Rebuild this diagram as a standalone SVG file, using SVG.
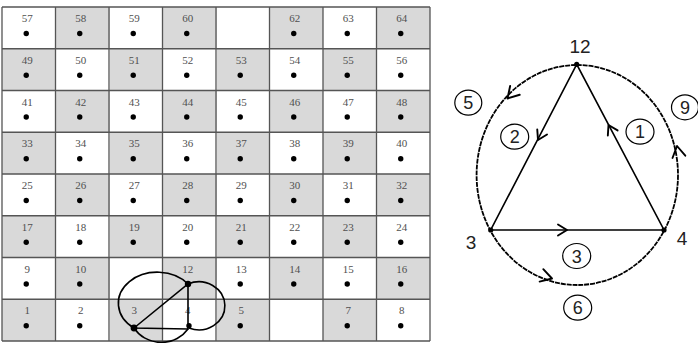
<svg xmlns="http://www.w3.org/2000/svg" xmlns:xlink="http://www.w3.org/1999/xlink" width="698" height="343" viewBox="0 0 698 343">
<style>
.gl{stroke:#555;stroke-width:1.3;fill:none}
.n{font-family:"Liberation Serif",serif;font-size:11px;fill:#505050;text-anchor:middle}
.d{fill:#000}
.sk{stroke:#000;stroke-width:1.6;fill:none}
.ln{stroke:#000;stroke-width:1.6;fill:none}
.arc{stroke:#000;stroke-width:1.8;fill:none;stroke-dasharray:5 0.9}
.chev{stroke:#000;stroke-width:1.9;fill:none;stroke-linecap:round;stroke-linejoin:round}
.lb{font-family:"Liberation Sans",Arial,sans-serif;font-size:19px;fill:#222;text-anchor:middle}
.cl{font-family:"Liberation Sans",Arial,sans-serif;font-size:18px;fill:#222;text-anchor:middle}
.ce{stroke:#000;stroke-width:1.2;fill:none}
</style>
<defs>
<pattern id="checker" patternUnits="userSpaceOnUse" x="2" y="7" width="107" height="83.5">
<rect x="0" y="0" width="107" height="83.5" fill="#fff"/>
<rect x="53.5" y="0" width="53.5" height="41.75" fill="#d9d9d9"/>
<rect x="0" y="41.75" width="53.5" height="41.75" fill="#d9d9d9"/>
</pattern>
<path id="chv" d="M-9,-5.5 L0,0 L-9,5.5"/>
<path id="chv2" d="M-11,-6.5 L0,0 L-11,6.5"/>
</defs>
<rect width="698" height="343" fill="#fff"/>
<g id="grid">
<rect x="2" y="7" width="428" height="334" fill="url(#checker)"/>
<path class="gl" d="M2,7V341M55.5,7V341M109,7V341M162.5,7V341M216,7V341M269.5,7V341M323,7V341M376.5,7V341M430,7V341M2,7H430M2,48.75H430M2,90.5H430M2,132.25H430M2,174H430M2,215.75H430M2,257.5H430M2,299.25H430M2,341H430"/>
</g>
<g id="cell-numbers">
<text class="n" x="27.25" y="22">57</text><text class="n" x="80.75" y="22">58</text><text class="n" x="134.25" y="22">59</text><text class="n" x="187.75" y="22">60</text><text class="n" x="294.75" y="22">62</text><text class="n" x="348.25" y="22">63</text><text class="n" x="401.75" y="22">64</text>
<text class="n" x="27.25" y="63.75">49</text><text class="n" x="80.75" y="63.75">50</text><text class="n" x="134.25" y="63.75">51</text><text class="n" x="187.75" y="63.75">52</text><text class="n" x="241.25" y="63.75">53</text><text class="n" x="294.75" y="63.75">54</text><text class="n" x="348.25" y="63.75">55</text><text class="n" x="401.75" y="63.75">56</text>
<text class="n" x="27.25" y="105.5">41</text><text class="n" x="80.75" y="105.5">42</text><text class="n" x="134.25" y="105.5">43</text><text class="n" x="187.75" y="105.5">44</text><text class="n" x="241.25" y="105.5">45</text><text class="n" x="294.75" y="105.5">46</text><text class="n" x="348.25" y="105.5">47</text><text class="n" x="401.75" y="105.5">48</text>
<text class="n" x="27.25" y="147.25">33</text><text class="n" x="80.75" y="147.25">34</text><text class="n" x="134.25" y="147.25">35</text><text class="n" x="187.75" y="147.25">36</text><text class="n" x="241.25" y="147.25">37</text><text class="n" x="294.75" y="147.25">38</text><text class="n" x="348.25" y="147.25">39</text><text class="n" x="401.75" y="147.25">40</text>
<text class="n" x="27.25" y="189">25</text><text class="n" x="80.75" y="189">26</text><text class="n" x="134.25" y="189">27</text><text class="n" x="187.75" y="189">28</text><text class="n" x="241.25" y="189">29</text><text class="n" x="294.75" y="189">30</text><text class="n" x="348.25" y="189">31</text><text class="n" x="401.75" y="189">32</text>
<text class="n" x="27.25" y="230.75">17</text><text class="n" x="80.75" y="230.75">18</text><text class="n" x="134.25" y="230.75">19</text><text class="n" x="187.75" y="230.75">20</text><text class="n" x="241.25" y="230.75">21</text><text class="n" x="294.75" y="230.75">22</text><text class="n" x="348.25" y="230.75">23</text><text class="n" x="401.75" y="230.75">24</text>
<text class="n" x="27.25" y="272.5">9</text><text class="n" x="80.75" y="272.5">10</text><text class="n" x="187.75" y="272.5">12</text><text class="n" x="241.25" y="272.5">13</text><text class="n" x="294.75" y="272.5">14</text><text class="n" x="348.25" y="272.5">15</text><text class="n" x="401.75" y="272.5">16</text>
<text class="n" x="27.25" y="314.25">1</text><text class="n" x="80.75" y="314.25">2</text><text class="n" x="134.25" y="314.25">3</text><text class="n" x="187.75" y="314.25">4</text><text class="n" x="241.25" y="314.25">5</text><text class="n" x="348.25" y="314.25">7</text><text class="n" x="401.75" y="314.25">8</text>
</g>
<g id="cell-dots" class="d">
<circle cx="26.25" cy="33.5" r="2.7"/><circle cx="79.75" cy="33.5" r="2.7"/><circle cx="133.25" cy="33.5" r="2.7"/><circle cx="186.75" cy="33.5" r="2.7"/><circle cx="293.75" cy="33.5" r="2.7"/><circle cx="347.25" cy="33.5" r="2.7"/><circle cx="400.75" cy="33.5" r="2.7"/>
<circle cx="26.25" cy="75.25" r="2.7"/><circle cx="79.75" cy="75.25" r="2.7"/><circle cx="133.25" cy="75.25" r="2.7"/><circle cx="186.75" cy="75.25" r="2.7"/><circle cx="240.25" cy="75.25" r="2.7"/><circle cx="293.75" cy="75.25" r="2.7"/><circle cx="347.25" cy="75.25" r="2.7"/><circle cx="400.75" cy="75.25" r="2.7"/>
<circle cx="26.25" cy="117" r="2.7"/><circle cx="79.75" cy="117" r="2.7"/><circle cx="133.25" cy="117" r="2.7"/><circle cx="186.75" cy="117" r="2.7"/><circle cx="240.25" cy="117" r="2.7"/><circle cx="293.75" cy="117" r="2.7"/><circle cx="347.25" cy="117" r="2.7"/><circle cx="400.75" cy="117" r="2.7"/>
<circle cx="26.25" cy="158.75" r="2.7"/><circle cx="79.75" cy="158.75" r="2.7"/><circle cx="133.25" cy="158.75" r="2.7"/><circle cx="186.75" cy="158.75" r="2.7"/><circle cx="240.25" cy="158.75" r="2.7"/><circle cx="293.75" cy="158.75" r="2.7"/><circle cx="347.25" cy="158.75" r="2.7"/><circle cx="400.75" cy="158.75" r="2.7"/>
<circle cx="26.25" cy="200.5" r="2.7"/><circle cx="79.75" cy="200.5" r="2.7"/><circle cx="133.25" cy="200.5" r="2.7"/><circle cx="186.75" cy="200.5" r="2.7"/><circle cx="240.25" cy="200.5" r="2.7"/><circle cx="293.75" cy="200.5" r="2.7"/><circle cx="347.25" cy="200.5" r="2.7"/><circle cx="400.75" cy="200.5" r="2.7"/>
<circle cx="26.25" cy="242.25" r="2.7"/><circle cx="79.75" cy="242.25" r="2.7"/><circle cx="133.25" cy="242.25" r="2.7"/><circle cx="186.75" cy="242.25" r="2.7"/><circle cx="240.25" cy="242.25" r="2.7"/><circle cx="293.75" cy="242.25" r="2.7"/><circle cx="347.25" cy="242.25" r="2.7"/><circle cx="400.75" cy="242.25" r="2.7"/>
<circle cx="26.25" cy="284" r="2.7"/><circle cx="79.75" cy="284" r="2.7"/><circle cx="240.25" cy="284" r="2.7"/><circle cx="293.75" cy="284" r="2.7"/><circle cx="347.25" cy="284" r="2.7"/><circle cx="400.75" cy="284" r="2.7"/>
<circle cx="26.25" cy="325.75" r="2.7"/><circle cx="79.75" cy="325.75" r="2.7"/><circle cx="189" cy="325.75" r="2.7"/><circle cx="240.25" cy="325.75" r="2.7"/><circle cx="347.25" cy="325.75" r="2.7"/><circle cx="400.75" cy="325.75" r="2.7"/>
</g>
<g id="sketch">
<path class="sk" d="M134,328 A39,31 0 1 1 188,284"/>
<path class="sk" d="M188,284 A26,24 0 1 1 189,328"/>
<path class="sk" d="M134,328 A32,30 0 0 0 188,329"/>
<path class="sk" d="M134,328 L188,284 L188,329 Z"/>
<circle cx="134" cy="328" r="3.4" class="d"/>
<circle cx="188" cy="284" r="3.2" class="d"/>
</g>
<g id="connectors">
<ellipse class="arc" cx="577.3" cy="175" rx="100.7" ry="110"/>
<path class="ln" d="M576.7,64.3 L490.7,230 L664,230 Z"/>
<use href="#chv" class="chev" transform="translate(538,140) rotate(117.4)"/>
<use href="#chv" class="chev" transform="translate(608.5,125) rotate(-117.8)"/>
<use href="#chv" class="chev" transform="translate(567,230)"/>
<use href="#chv2" class="chev" transform="translate(507.5,98.5) rotate(132.5)"/>
<use href="#chv2" class="chev" transform="translate(677,146) rotate(-100)"/>
<use href="#chv2" class="chev" transform="translate(552,278.5) rotate(16.4)"/>
</g>
<g id="node-12"><circle class="d" cx="576.7" cy="64.3" r="2.6"/><text class="lb" x="580" y="53">12</text></g>
<g id="node-3"><circle class="d" cx="490.7" cy="230" r="2.6"/><text class="lb" x="471" y="249">3</text></g>
<g id="node-4"><circle class="d" cx="664" cy="230" r="2.6"/><text class="lb" x="682" y="245">4</text></g>
<g id="label-5"><ellipse class="ce" cx="468.3" cy="102.7" rx="13.5" ry="12.5"/><text class="cl" x="468.3" y="109.2">5</text></g>
<g id="label-2"><ellipse class="ce" cx="514.7" cy="136.7" rx="14" ry="12.5"/><text class="cl" x="514.7" y="143.2">2</text></g>
<g id="label-1"><ellipse class="ce" cx="640" cy="131.7" rx="14" ry="12.5"/><text class="cl" x="640" y="138.2">1</text></g>
<g id="label-9"><ellipse class="ce" cx="685" cy="107.3" rx="13.5" ry="12.5"/><text class="cl" x="685" y="113.8">9</text></g>
<g id="label-3"><ellipse class="ce" cx="576.7" cy="256" rx="14" ry="12.5"/><text class="cl" x="576.7" y="262.5">3</text></g>
<g id="label-6"><ellipse class="ce" cx="577.7" cy="307.7" rx="14" ry="12.5"/><text class="cl" x="577.7" y="314.2">6</text></g>
</svg>
